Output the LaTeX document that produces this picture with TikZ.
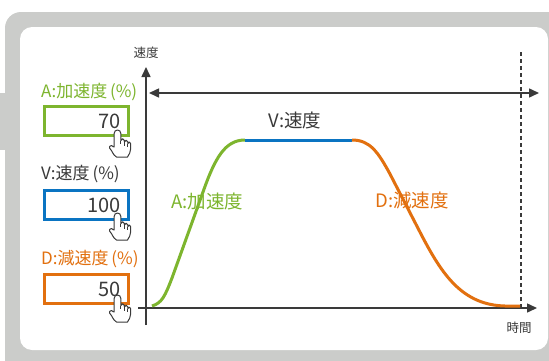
\documentclass[tikz,border=0pt]{standalone}
\usepackage{fontspec}
\setmainfont{Noto Sans CJK JP}
\usetikzlibrary{arrows.meta}
\definecolor{accgreen}{HTML}{7DB52E}
\definecolor{velblue}{HTML}{0A74C2}
\definecolor{decorange}{HTML}{E2700F}
\definecolor{framegray}{HTML}{CBCCCA}
\definecolor{textgray}{HTML}{3A3A3A}
\tikzstyle{every node}=[inner sep=0pt,text=textgray]
\tikzstyle{axis}=[draw=textgray,line width=1.5pt,-{Triangle[length=10pt,width=9pt]}]
\tikzstyle{speedline}=[line width=3pt]
\tikzstyle{valuebox}=[draw,line width=3pt,minimum width=84pt,minimum height=29pt]
\tikzstyle{boxlabel}=[anchor=west,font=\fontsize{17}{17}\selectfont]
\tikzstyle{curvelabel}=[font=\fontsize{18.5}{18.5}\selectfont]
\tikzstyle{valuetext}=[anchor=east,font=\fontsize{20}{20}\selectfont]
\tikzstyle{axislabel}=[font=\fontsize{12.5}{12.5}\selectfont]
\tikzset{hand/.pic={
	\draw[fill=white,draw=textgray,line width=1pt,line join=round]
		(-3.3,-3.3) arc (180:0:3.3) -- (3.3,-10.5) arc (180:0:1.8)
		-- (6.9,-12) arc (180:0:1.7) -- (10.3,-13.5) arc (180:0:1.4)
		-- (13.1,-19) to[out=-90,in=60] (10,-27) -- (-1,-27)
		to[out=150,in=-45] (-8,-18) to[out=135,in=180] (-6,-15.5)
		to[out=0,in=-120] (-3.3,-17) -- cycle;
	\draw[textgray,line width=0.8pt] (3.3,-10.5) -- (3.3,-14) (6.9,-12) -- (6.9,-15.5) (10.3,-13.5) -- (10.3,-16.5);
}}

\begin{document}
\begin{tikzpicture}[x=1pt,y=1pt]
\useasboundingbox (0,0) rectangle (549,360);
\clip (0,0) rectangle (549,360);
\fill[framegray,rounded corners=16pt] (5,-20) rectangle (580,348);
\fill[framegray] (-1,210) rectangle (10,267);
\fill[white,rounded corners=12pt] (20,10) rectangle (548,333);

\coordinate (ybot) at (146,35);
\coordinate (ytop) at (146,293);
\coordinate (xbeg) at (138,52);
\coordinate (xend) at (537,52);
\coordinate (spanl) at (149,267);
\coordinate (spanr) at (539,267);
\coordinate (tend) at (521,52);
\coordinate (tendtop) at (521,308);
\draw[axis] (ybot) -- (ytop);
\draw[axis] (xbeg) -- (xend);
\draw[axis,{Triangle[length=10pt,width=9pt]}-{Triangle[length=10pt,width=9pt]}] (spanl) -- (spanr);
\draw[textgray,line width=1.3pt,dash pattern=on 4pt off 3pt] (tendtop) -- (tend);
\node[axislabel] (vaxis) at (146,307) {速度};
\node[axislabel] (taxis) at (519,32) {時間};

\coordinate (s0) at (152,54);
\coordinate (a1) at (245,220);
\coordinate (v1) at (352,220);
\coordinate (d1) at (520,54);
\draw[speedline,accgreen] (s0) .. controls (162,57) and (165,64) .. (172,82) -- (203,168)
	.. controls (215,202) and (225,220) .. (a1);
\draw[speedline,velblue] (a1) -- (v1);
\draw[speedline,decorange] (v1) .. controls (370,220) and (378,208) .. (390,186) -- (422,124)
	.. controls (442,86) and (462,55) .. (505,54) -- (d1);
\node[curvelabel] (vtext) at (295,240) {V:速度};
\node[curvelabel,text=accgreen] (atext) at (207.5,158.5) {A:加速度};
\node[curvelabel,text=decorange] (dtext) at (412,160) {D:減速度};

\node[boxlabel,text=accgreen] (alabel) at (41,268) {A:加速度\,(\%)};
\node[valuebox,draw=accgreen] (abox) at (86,239) {};
\node[valuetext] (aval) at ([xshift=-9pt]abox.east) {70};
\pic at ([xshift=-12pt,yshift=-9pt]abox.east) {hand};

\node[boxlabel] (vlabel) at (41,186) {V:速度\,(\%)};
\node[valuebox,draw=velblue] (vbox) at (86,155) {};
\node[valuetext] (vval) at ([xshift=-9pt]vbox.east) {100};
\pic at ([xshift=-12pt,yshift=-8pt]vbox.east) {hand};

\node[boxlabel,text=decorange] (dlabel) at (41,101) {D:減速度\,(\%)};
\node[valuebox,draw=decorange] (dbox) at (86,71) {};
\node[valuetext] (dval) at ([xshift=-9pt]dbox.east) {50};
\pic at ([xshift=-12pt,yshift=-6pt]dbox.east) {hand};
\end{tikzpicture}
\end{document}
